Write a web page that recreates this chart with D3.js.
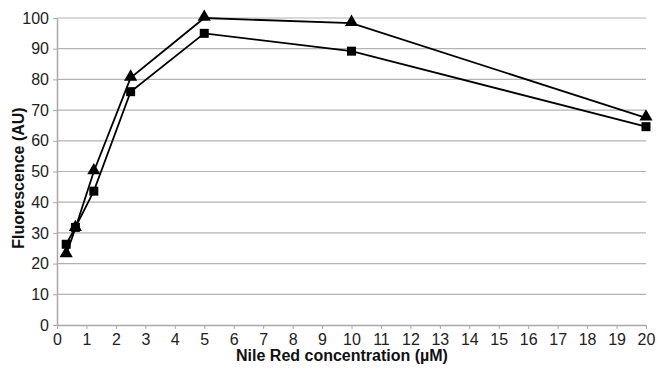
<!DOCTYPE html>
<html><head><meta charset="utf-8">
<script src="https://cdn.jsdelivr.net/npm/d3@7"></script>
<style>body{margin:0;background:#fff}svg{display:block}text{font-family:"Liberation Sans",Arial,sans-serif}</style>
</head><body><svg id="c" width="657" height="370"></svg>
<script>
const concentrations = [0.3125, 0.625, 1.25, 2.5, 5, 10, 20];
const triangleSeries = [23, 31.5, 50, 80.5, 100, 98.3, 67.5];
const squareSeries = [26.3, 31.8, 43.6, 76, 95, 89.2, 64.6];
const xTicks = d3.range(0, 21, 1);
const yTicks = d3.range(0, 101, 10);
const xTitle = "Nile Red concentration (µM)";
const yTitle = "Fluorescence (AU)";

(function () {
const svg = d3.select("#c");
const mLeft = 57, mRight = 646, mTop = 18, mBottom = 325;
const x = d3.scaleLinear().domain([0, 20]).range([mLeft, mRight]);
const y = d3.scaleLinear().domain([0, 100]).range([mBottom, mTop]);

svg.append("g").selectAll("line").data(yTicks.filter(d => d > 0)).join("line")
  .attr("x1", mLeft).attr("x2", mRight).attr("y1", d => y(d)).attr("y2", d => y(d))
  .attr("stroke", "#b3b3b3").attr("stroke-width", 1.2);

const xAxis = svg.append("g").attr("transform", `translate(0,${mBottom})`)
  .call(d3.axisBottom(x).tickValues(xTicks).tickSize(4).tickSizeOuter(0).tickPadding(5));
const yAxis = svg.append("g").attr("transform", `translate(${mLeft},0)`)
  .call(d3.axisLeft(y).tickValues(yTicks).tickSize(4).tickSizeOuter(0).tickPadding(4));
[xAxis, yAxis].forEach(a => {
  a.select(".domain").attr("stroke", "#a8a8a8").attr("stroke-width", 1.5);
  a.selectAll(".tick line").attr("stroke", "#a8a8a8");
  a.selectAll(".tick text").attr("fill", "#222").style("font-size", "16px");
});

const line = d3.line().x((d, i) => x(concentrations[i])).y(d => y(d));
[triangleSeries, squareSeries].forEach(s => {
  svg.append("path").datum(s).attr("d", line).attr("fill", "none")
    .attr("stroke", "#000").attr("stroke-width", 1.8);
});
svg.append("g").selectAll("path").data(triangleSeries).join("path")
  .attr("d", d3.symbol().type(d3.symbolTriangle).size(75))
  .attr("transform", (d, i) => `translate(${x(concentrations[i])},${y(d) - 1})`)
  .attr("fill", "#000");
svg.append("g").selectAll("rect").data(squareSeries).join("rect")
  .attr("x", (d, i) => x(concentrations[i]) - 4.5).attr("y", d => y(d) - 4.5)
  .attr("width", 9).attr("height", 9).attr("fill", "#000");

svg.append("text").attr("x", 342).attr("y", 361).attr("text-anchor", "middle")
  .style("font-size", "16px").style("font-weight", "bold").attr("fill", "#111").text(xTitle);
svg.append("text").attr("transform", "translate(24,178) rotate(-90)").attr("text-anchor", "middle")
  .style("font-size", "16px").style("font-weight", "bold").attr("fill", "#111").text(yTitle);
})();
</script></body></html>
